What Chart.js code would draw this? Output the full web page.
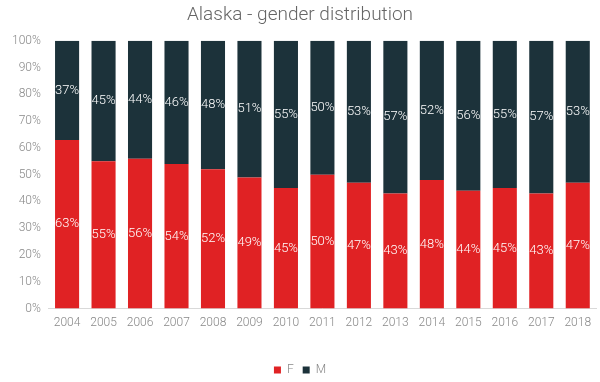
<!DOCTYPE html>
<html>
<head>
<meta charset="utf-8">
<script src="https://cdn.jsdelivr.net/npm/chart.js@4/dist/chart.umd.min.js"></script>
<style>
html,body{margin:0;padding:0;background:#fff;}
#wrap{width:600px;height:382px;}
</style>
</head>
<body>
<div id="wrap"><canvas id="c" width="600" height="382"></canvas></div>
<script>
const categories = ['2004','2005','2006','2007','2008','2009','2010','2011','2012','2013','2014','2015','2016','2017','2018'];
const femaleValues = [63,55,56,54,52,49,45,50,47,43,48,44,45,43,47];
const maleValues = [37,45,44,46,48,51,55,50,53,57,52,56,55,57,53];
const seriesNames = ['F','M'];
const seriesColors = ['#e02224','#1c323a'];

const labelPlugin = {
  id: 'segLabels',
  afterLayout(chart) {
    if (chart.legend) { chart.legend.top += 4; chart.legend.bottom += 4; }
  },
  afterDatasetsDraw(chart) {
    const ctx = chart.ctx;
    ctx.save();
    ctx.font = '300 13px Roboto';
    ctx.fillStyle = '#ffffff';
    ctx.textAlign = 'center';
    ctx.textBaseline = 'middle';
    chart.data.datasets.forEach((ds, i) => {
      const meta = chart.getDatasetMeta(i);
      meta.data.forEach((bar, j) => {
        const v = ds.data[j];
        const cy = (bar.y + bar.base) / 2;
        ctx.fillText(Math.round(v) + '%', bar.x, cy);
      });
    });
    ctx.restore();
  }
};

new Chart(document.getElementById('c'), {
  type: 'bar',
  data: {
    labels: categories,
    datasets: [
      { label: seriesNames[0], data: femaleValues, backgroundColor: seriesColors[0], barPercentage: 0.66, categoryPercentage: 1.0 },
      { label: seriesNames[1], data: maleValues, backgroundColor: seriesColors[1], barPercentage: 0.66, categoryPercentage: 1.0 }
    ]
  },
  options: {
    responsive: false,
    animation: false,
    devicePixelRatio: 1,
    layout: { padding: { left: 4, right: 4, top: 0, bottom: 0 } },
    plugins: {
      title: {
        display: true,
        text: 'Alaska - gender distribution',
        color: '#666666',
        font: { family: 'Roboto', size: 19, weight: '300' },
        padding: { top: 4, bottom: 14 }
      },
      legend: {
        position: 'bottom',
        labels: {
          boxWidth: 7, boxHeight: 7, color: '#888888',
          font: { family: 'Roboto', size: 12, weight: '300' },
          padding: 9
        }
      },
      tooltip: { enabled: false }
    },
    scales: {
      x: {
        stacked: true,
        grid: { display: false, drawTicks: false },
        border: { display: true, color: '#d9d9d9' },
        ticks: { color: '#888888', font: { family: 'Roboto', size: 12, weight: '300' }, padding: 7 },
        afterFit(s) { s.height += 14; }
      },
      y: {
        stacked: true,
        min: 0, max: 100,
        grid: { display: false, drawTicks: false },
        border: { display: false },
        ticks: { stepSize: 10, color: '#888888', font: { family: 'Roboto', size: 12, weight: '300' }, padding: 8,
          callback: v => v + '%' }
      }
    }
  },
  plugins: [labelPlugin]
});
</script>
</body>
</html>
